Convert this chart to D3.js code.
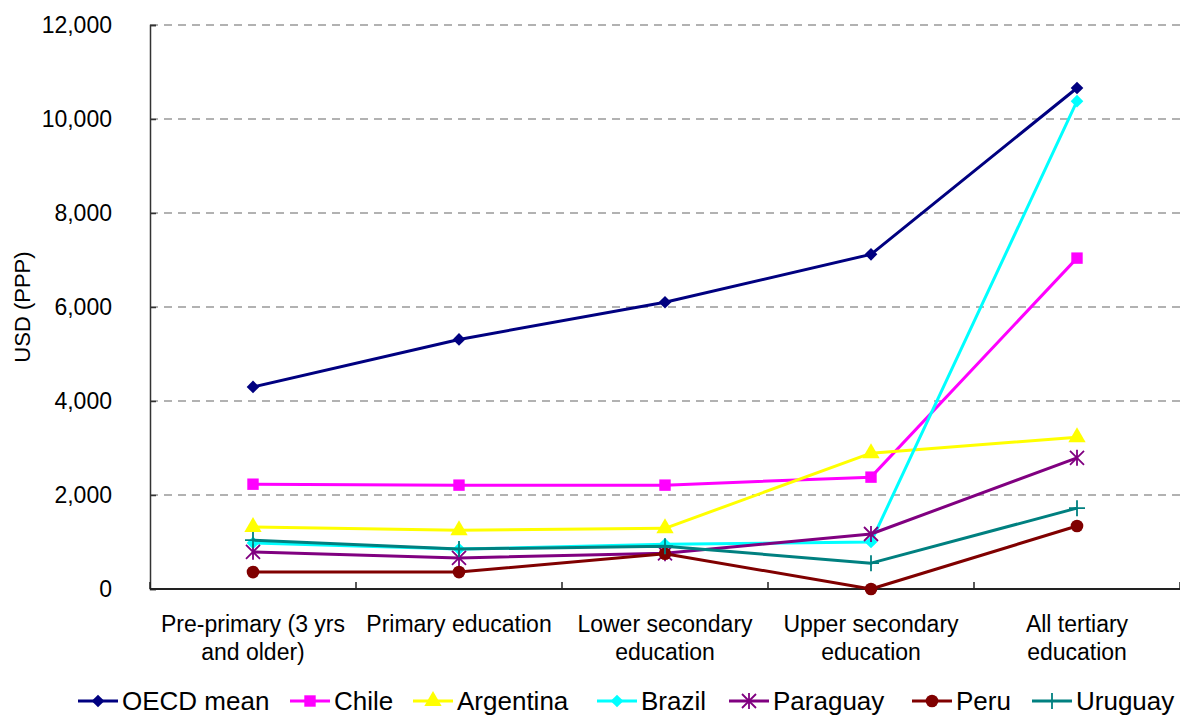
<!DOCTYPE html>
<html>
<head>
<meta charset="utf-8">
<script src="https://cdn.jsdelivr.net/npm/d3@7"></script>
<style>
  body { margin: 0; background: #fff; }
  svg { display: block; font-family: "Liberation Sans", Arial, sans-serif; }
  .tick-text { font-size: 23px; fill: #000; }
  .cat-text { font-size: 23px; fill: #000; }
  .legend-text { font-size: 26px; fill: #000; }
  .axis-title { font-size: 22px; fill: #000; }
</style>
</head>
<body>
<div id="chart"></div>
<script>
const CATEGORIES = [
  ["Pre-primary (3 yrs", "and older)"],
  ["Primary education"],
  ["Lower secondary", "education"],
  ["Upper secondary", "education"],
  ["All tertiary", "education"],
];
const Y_TICKS = [0, 2000, 4000, 6000, 8000, 10000, 12000];

const OECD_MEAN = [4300, 5310, 6100, 7120, 10660];
const CHILE = [2230, 2210, 2210, 2380, 7040];
const ARGENTINA = [1320, 1250, 1290, 2890, 3230];
const BRAZIL = [980, 850, 950, 1000, 10380];
const PARAGUAY = [790, 660, 760, 1170, 2790];
const PERU = [360, 360, 750, 0, 1340];
const URUGUAY = [1040, 850, 910, 550, 1720];

const SERIES = [
  { name: "OECD mean", values: OECD_MEAN, color: "#000080", marker: "diamond" },
  { name: "Chile", values: CHILE, color: "#ff00ff", marker: "square" },
  { name: "Argentina", values: ARGENTINA, color: "#ffff00", marker: "triangle" },
  { name: "Brazil", values: BRAZIL, color: "#00ffff", marker: "diamond" },
  { name: "Paraguay", values: PARAGUAY, color: "#800080", marker: "asterisk" },
  { name: "Peru", values: PERU, color: "#800000", marker: "circle" },
  { name: "Uruguay", values: URUGUAY, color: "#008080", marker: "plus" },
];

const width = 1180;
const height = 715;
const margin = { top: 25, right: 0, bottom: 126, left: 150 };

const svg = d3.select("#chart").append("svg").attr("width", width).attr("height", height);

const x = d3
  .scaleBand()
  .domain(d3.range(CATEGORIES.length))
  .range([margin.left, width - margin.right]);

const y = d3
  .scaleLinear()
  .domain([0, 12000])
  .range([height - margin.bottom, margin.top]);

// dashed gridlines
svg
  .append("g")
  .selectAll("line")
  .data(Y_TICKS.filter((d) => d > 0))
  .join("line")
  .attr("x1", margin.left)
  .attr("x2", width - margin.right)
  .attr("y1", (d) => y(d))
  .attr("y2", (d) => y(d))
  .attr("stroke", "#666")
  .attr("stroke-width", 1.2)
  .attr("stroke-dasharray", "8,6");

// y axis
svg
  .append("g")
  .attr("transform", `translate(${margin.left}, 0)`)
  .call(d3.axisRight(y).tickValues(Y_TICKS).tickSize(6).tickFormat(() => ""))
  .call((g) => g.selectAll("line, path").attr("stroke", "#333").attr("stroke-width", 1.5));

svg
  .append("g")
  .selectAll("text")
  .data(Y_TICKS)
  .join("text")
  .attr("class", "tick-text")
  .attr("x", margin.left - 38)
  .attr("y", (d) => y(d))
  .attr("dy", "0.35em")
  .attr("text-anchor", "end")
  .text((d) => d3.format(",")(d));

svg
  .append("text")
  .attr("class", "axis-title")
  .attr("transform", `translate(30, ${(margin.top + height - margin.bottom) / 2}) rotate(-90)`)
  .attr("text-anchor", "middle")
  .text("USD (PPP)");

// x axis
const xBase = height - margin.bottom;
svg
  .append("line")
  .attr("x1", margin.left)
  .attr("x2", width - margin.right)
  .attr("y1", xBase)
  .attr("y2", xBase)
  .attr("stroke", "#222")
  .attr("stroke-width", 2);

svg
  .append("g")
  .selectAll("line")
  .data(d3.range(CATEGORIES.length + 1))
  .join("line")
  .attr("x1", (i) => margin.left + i * x.bandwidth())
  .attr("x2", (i) => margin.left + i * x.bandwidth())
  .attr("y1", xBase)
  .attr("y2", xBase - 7)
  .attr("stroke", "#222")
  .attr("stroke-width", 1.5);

svg
  .append("g")
  .selectAll("text")
  .data(CATEGORIES)
  .join("text")
  .attr("class", "cat-text")
  .attr("x", (d, i) => x(i) + x.bandwidth() / 2)
  .attr("y", xBase + 43)
  .attr("text-anchor", "middle")
  .selectAll("tspan")
  .data((d) => d)
  .join("tspan")
  .attr("x", function () {
    return this.parentNode.getAttribute("x");
  })
  .attr("dy", (d, i) => (i === 0 ? 0 : 28))
  .text((d) => d);

function drawMarker(g, type, color) {
  if (type === "diamond") {
    g.append("path").attr("d", d3.symbol(d3.symbolSquare, 80)()).attr("transform", "rotate(45)").attr("fill", color);
  } else if (type === "square") {
    g.append("path").attr("d", d3.symbol(d3.symbolSquare, 130)()).attr("fill", color);
  } else if (type === "triangle") {
    g.append("path").attr("d", d3.symbol(d3.symbolTriangle, 130)()).attr("fill", color);
  } else if (type === "circle") {
    g.append("path").attr("d", d3.symbol(d3.symbolCircle, 125)()).attr("fill", color);
  } else if (type === "asterisk") {
    g.append("path")
      .attr("d", "M-7,-7L7,7M-7,7L7,-7M0,-8L0,8")
      .attr("stroke", color)
      .attr("stroke-width", 1.8)
      .attr("fill", "none");
  } else if (type === "plus") {
    g.append("path")
      .attr("d", "M-8,0L8,0M0,-8L0,8")
      .attr("stroke", color)
      .attr("stroke-width", 1.8)
      .attr("fill", "none");
  }
}

const line = d3
  .line()
  .x((d, i) => x(i) + x.bandwidth() / 2)
  .y((d) => y(d));

SERIES.forEach((s) => {
  const g = svg.append("g");
  g.append("path")
    .attr("d", line(s.values))
    .attr("fill", "none")
    .attr("stroke", s.color)
    .attr("stroke-width", 3)
    .attr("stroke-linejoin", "round");

  g.selectAll("g")
    .data(s.values)
    .join("g")
    .attr("transform", (d, i) => `translate(${x(i) + x.bandwidth() / 2}, ${y(d)})`)
    .each(function () {
      drawMarker(d3.select(this), s.marker, s.color);
    });
});

// legend
const legendX = [78, 290, 413, 597, 729, 912, 1032];
const legendY = 701;
const legend = svg.append("g");
SERIES.forEach((s, i) => {
  const item = legend.append("g").attr("transform", `translate(${legendX[i]}, ${legendY})`);
  item
    .append("line")
    .attr("x1", 0)
    .attr("x2", 40)
    .attr("y1", 0)
    .attr("y2", 0)
    .attr("stroke", s.color)
    .attr("stroke-width", 3);
  drawMarker(item.append("g").attr("transform", "translate(20, 0)"), s.marker, s.color);
  item
    .append("text")
    .attr("class", "legend-text")
    .attr("x", 44)
    .attr("y", 0)
    .attr("dy", "0.36em")
    .text(s.name);
});
</script>
</body>
</html>
